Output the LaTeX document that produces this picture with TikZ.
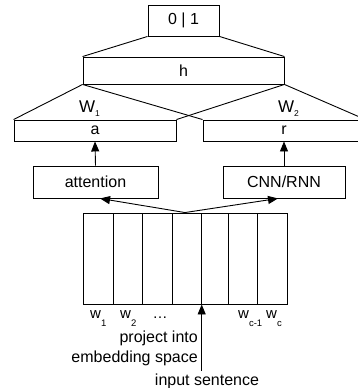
\documentclass[tikz,border=0pt]{standalone}
\usepackage{fontspec}
\setmainfont{Liberation Sans}
\usetikzlibrary{arrows.meta}
\newcommand{\lsub}[3]{\raisebox{-#1pt}{\fontsize{#2}{#2}\selectfont #3}}
\begin{document}
\begin{tikzpicture}[x=1pt,y=-1pt,
  every node/.style={font=\fontsize{16}{19}\selectfont},
  ln/.style={line width=0.9pt},
  box/.style={draw, ln, rectangle, inner sep=0pt},
  ar/.style={ln, -{Triangle[length=10pt,width=8pt]}},
  wlab/.style={anchor=base west, inner sep=0pt, font=\fontsize{15}{15}\selectfont},
  Wlab/.style={anchor=base west, inner sep=0pt, font=\fontsize{17}{17}\selectfont},
  txt/.style={inner sep=0pt}]
\useasboundingbox (0,0) rectangle (358,388);
% boxes
\node[box, minimum width=71pt, minimum height=31pt] (out) at (183.5,20.5) {0 | 1};
\node[box, minimum width=201pt, minimum height=27pt] (h) at (183.5,70.5) {h};
\node[box, minimum width=162pt, minimum height=21pt] (a) at (95,130.5) {a};
\node[box, minimum width=162pt, minimum height=21pt] (r) at (284,130.5) {r};
\node[box, minimum width=125pt, minimum height=32pt] (att) at (95.5,182) {attention};
\node[box, minimum width=122pt, minimum height=32pt] (cnn) at (284,182) {CNN/RNN};
\node[box, minimum width=204pt, minimum height=91pt] (emb) at (185,258.5) {};
% embedding columns
\foreach \x in {113.3,142.7,172.3,201.7,228.3,257.7}
  \draw[ln] (\x,213) -- (\x,304);
% trapezoid connectors
\draw[ln] (out.south west) -- (h.north west);
\draw[ln] (out.south east) -- (h.north east);
\draw[ln] (h.south west) -- (a.north west);
\draw[ln] (h.south east) -- (a.north east);
\draw[ln] (h.south west) -- (r.north west);
\draw[ln] (h.south east) -- (r.north east);
% weight labels
\node[Wlab] (W1) at (79,112) {W\lsub{4}{8.5}{1}};
\node[Wlab] (W2) at (278,112) {W\lsub{4}{8.5}{2}};
% arrows
\draw[ar] (att.north) -- (a.south);
\draw[ar] (cnn.north) -- (r.south);
\draw[ar] (emb.north) -- ([xshift=4.5pt]att.south);
\draw[ar] (emb.north) -- ([xshift=-6pt]cnn.south);
% input arrow
\coordinate (src) at (201.7,371);
\draw[ar] (src) -- (src |- emb.south);
% word labels
\node[wlab] (w1) at (90,318) {w\lsub{8}{9.5}{1}};
\node[wlab] (w2) at (120,318) {w\lsub{8}{9.5}{2}};
\node[anchor=base, inner sep=0pt, font=\fontsize{15}{15}\selectfont] (dots) at (160,318) {…};
\node[wlab] (wc1) at (238,318) {w\lsub{8}{9.5}{c-1}};
\node[wlab] (wc) at (266,318) {w\lsub{8}{9.5}{c}};
% texts
\node[txt, anchor=base east] (proj1) at (198,342) {project into};
\node[txt, anchor=base east] (proj2) at (198,362) {embedding space};
\node[txt, anchor=base] (insent) at (207,385) {input sentence};
\end{tikzpicture}
\end{document}
